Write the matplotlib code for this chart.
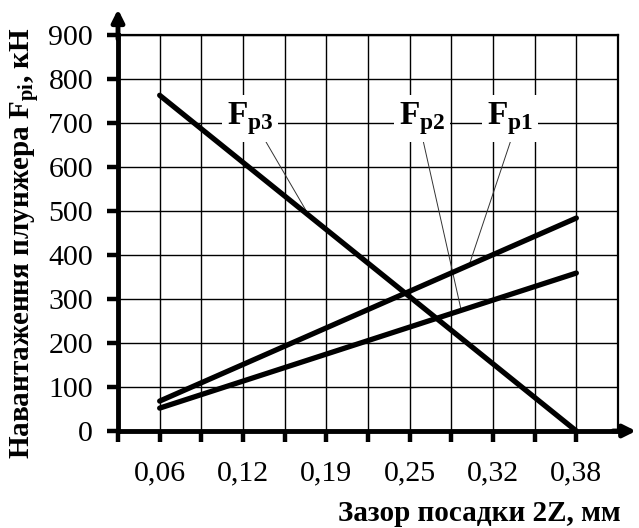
import matplotlib
matplotlib.use("Agg")
import matplotlib.pyplot as plt

# x grid: step 0.03125 mm, labels on every second line
gap_values = [0.0625, 0.125, 0.1875, 0.25, 0.3125, 0.375]
gap_labels = ['0,06', '0,12', '0,19', '0,25', '0,32', '0,38']
grid_step = 0.03125

# load lines (straight lines, ends only)
line_x = [0.0625, 0.375]
fp1 = [68, 484]
fp2 = [52, 359]
fp3 = [763, 0]

force_ticks = [0, 100, 200, 300, 400, 500, 600, 700, 800, 900]

plt.rcParams['font.family'] = ['Liberation Serif', 'DejaVu Serif']
plt.rcParams['mathtext.fontset'] = 'custom'
plt.rcParams['mathtext.rm'] = 'Liberation Serif'
plt.rcParams['mathtext.bf'] = 'Liberation Serif:bold'

fig = plt.figure(figsize=(6.39, 5.28), dpi=100)
ax = fig.add_axes([118 / 639, 1 - 431 / 528, 500 / 639, 396 / 528])

ax.set_xlim(grid_step, grid_step * 13)
ax.set_ylim(0, 900)

grid_x = [grid_step * k for k in range(1, 13)]
label_at = {round(v, 5): lab for v, lab in zip(gap_values, gap_labels)}
ax.set_xticks(grid_x)
ax.set_xticklabels([label_at.get(round(v, 5), '') for v in grid_x])
ax.set_yticks(force_ticks)
ax.grid(True, color='black', lw=1.0)
ax.set_axisbelow(True)

ax.tick_params(axis='both', direction='out', length=8, width=3.2, labelsize=21.5)
ax.tick_params(axis='x', pad=13)
ax.tick_params(axis='y', pad=10)

for side in ['left', 'bottom']:
    ax.spines[side].set_linewidth(3.5)
for side in ['top', 'right']:
    ax.spines[side].set_linewidth(1.6)

# arrows on the axes
ax.annotate('', xy=(0, 1.065), xytext=(0, 0.99), xycoords='axes fraction',
            arrowprops=dict(arrowstyle='-|>', lw=3.5, color='black', mutation_scale=18,
                            shrinkA=0, shrinkB=0), annotation_clip=False)
ax.annotate('', xy=(1.036, 0), xytext=(0.99, 0), xycoords='axes fraction',
            arrowprops=dict(arrowstyle='-|>', lw=3.5, color='black', mutation_scale=18,
                            shrinkA=0, shrinkB=0), annotation_clip=False)

for series in [fp1, fp2, fp3]:
    ax.plot(line_x, series, color='black', lw=3.8, solid_capstyle='round', zorder=3)

# labels with leader lines
labels = [
    (r'$\mathbf{F}_{\mathbf{p3}}$', (0.1301, 711), (0.1384, 677), (0.1744, 490)),
    (r'$\mathbf{F}_{\mathbf{p2}}$', (0.2593, 711), (0.2600, 661), (0.2886, 275)),
    (r'$\mathbf{F}_{\mathbf{p1}}$', (0.3254, 711), (0.3277, 677), (0.2946, 377)),
]
for text, pos, start, end in labels:
    ax.annotate('', xy=end, xytext=start,
                arrowprops=dict(arrowstyle='-', lw=0.7, color='#333333',
                                shrinkA=0, shrinkB=0), zorder=2)
    ax.text(pos[0], pos[1], text, fontsize=24, ha='center', va='center', zorder=4,
            bbox=dict(boxstyle='square,pad=0.15', fc='white', ec='none'))

fig.text(338 / 639, 1 - 521 / 528, 'Зазор посадки 2Z, мм', fontsize=21,
         fontweight='bold', ha='left', va='baseline')
fig.text(25 / 639, 1 - 243 / 528, 'Навантаження плунжера $\\mathbf{F_{pi}}$, кН',
         fontsize=21, fontweight='bold', rotation=90, ha='center', va='center')

fig.savefig('out.png', dpi=100)
